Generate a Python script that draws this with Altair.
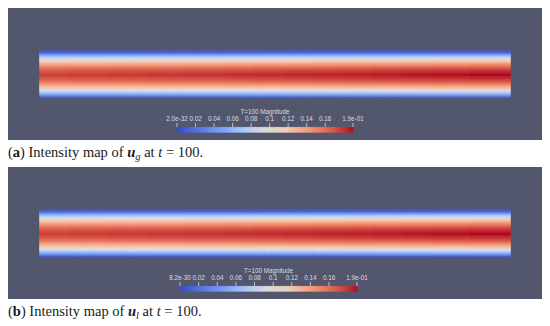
import altair as alt
import pandas as pd
import numpy as np

# ---- data ----
# relative magnitude across the channel, wall -> centreline (mirrored for the other half)
profile_half = [0.05, 0.14, 0.23, 0.31, 0.39, 0.46, 0.53, 0.59, 0.65, 0.70,
                0.75, 0.79, 0.83, 0.87, 0.90, 0.93, 0.95, 0.97, 0.98, 1.00]
# centreline magnitude along the channel (inlet -> outlet)
center_g = [0.177, 0.177, 0.177, 0.178, 0.178, 0.178, 0.178, 0.179, 0.179, 0.179, 0.179, 0.180,
            0.180, 0.180, 0.180, 0.181, 0.181, 0.181, 0.181, 0.182, 0.182, 0.182, 0.183, 0.183,
            0.183, 0.184, 0.184, 0.184, 0.185, 0.185, 0.185, 0.186, 0.186, 0.186, 0.187, 0.187,
            0.187, 0.188, 0.188, 0.188, 0.189, 0.189, 0.189, 0.189, 0.190, 0.190, 0.190, 0.190]
center_l = [0.177, 0.177, 0.177, 0.178, 0.178, 0.178, 0.178, 0.179, 0.179, 0.179, 0.179, 0.180,
            0.180, 0.180, 0.180, 0.181, 0.181, 0.181, 0.181, 0.182, 0.182, 0.182, 0.183, 0.183,
            0.183, 0.184, 0.184, 0.184, 0.185, 0.185, 0.185, 0.186, 0.186, 0.186, 0.187, 0.187,
            0.187, 0.188, 0.188, 0.188, 0.189, 0.189, 0.189, 0.189, 0.190, 0.190, 0.190, 0.190]
tick_values = [0.0, 0.02, 0.04, 0.06, 0.08, 0.1, 0.12, 0.14, 0.16, 0.19]
tick_labels_g = ["2.0e-32", "0.02", "0.04", "0.06", "0.08", "0.1", "0.12", "0.14", "0.16", "1.9e-01"]
tick_labels_l = ["8.2e-30", "0.02", "0.04", "0.06", "0.08", "0.1", "0.12", "0.14", "0.16", "1.9e-01"]
bar_title = "T=100 Magnitude"
vmax = 0.19

# ParaView "Cool to Warm"
cw_colors = ["#3b4cc0", "#5977e3", "#7b9ff9", "#aac7fd", "#dddddd",
             "#f1cbb7", "#f49a7b", "#de604d", "#b40426"]
cw_domain = [vmax * i / (len(cw_colors) - 1) for i in range(len(cw_colors))]
cscale = alt.Scale(domain=cw_domain, range=cw_colors, interpolate="lab")

W, H = 534, 132
BG = "#52576e"
# layout (px inside a panel)
STRIP_L, STRIP_R, STRIP_T, STRIP_B = 32, 502, 43, 89.5

# caption font metrics (Times-like, per 1000 em)
REG = {'(': 333, ')': 333, ' ': 250, 'I': 333, 'n': 500, 't': 278, 'e': 444, 's': 389,
       'i': 278, 'y': 500, 'm': 778, 'a': 444, 'p': 500, 'o': 500, 'f': 333, '=': 564,
       '1': 500, '0': 500, '.': 250}
SPECIAL = {('a', 'bold'): 500, ('b', 'bold'): 556, ('u', 'bi'): 556, ('g', 'it'): 500,
           ('l', 'it'): 278, ('t', 'it'): 278}


def seg_width(text, style, size):
    w = 0
    for ch in text:
        w += SPECIAL.get((ch, style), REG.get(ch, 500))
    return w * size / 1000.0


def panel(center, labels, bar_l, bar_r, letter, sub):
    rows = profile_half + profile_half[::-1]
    R, N = len(rows), len(center)
    recs = []
    for c, cv in enumerate(center):
        for r, f in enumerate(rows):
            recs.append({"x0": c / N, "x1": (c + 1) / N, "y0": r / R, "y1": (r + 1) / R,
                         "v": cv * f})
    df = pd.DataFrame(recs)
    sw = STRIP_R - STRIP_L
    sh = STRIP_B - STRIP_T
    xs = alt.Scale(domain=[-STRIP_L / sw, 1 + (W - STRIP_R) / sw], nice=False, zero=False)
    ys = alt.Scale(domain=[-(H - STRIP_B) / sh, 1 + STRIP_T / sh], nice=False, zero=False)
    heat = alt.Chart(df).mark_rect(strokeWidth=1.2).encode(
        x=alt.X("x0:Q", scale=xs, axis=None), x2="x1",
        y=alt.Y("y0:Q", scale=ys, axis=None), y2="y1",
        color=alt.Color("v:Q", scale=cscale, legend=None),
        stroke=alt.Stroke("v:Q", scale=cscale, legend=None),
    )
    k = vmax / (bar_r - bar_l)
    cbx = alt.Scale(domain=[-bar_l * k, vmax + (W - bar_r) * k], nice=False, zero=False)
    edges = np.linspace(0, vmax, 81)
    cb = pd.DataFrame({"lo": edges[:-1], "hi": edges[1:], "v": (edges[:-1] + edges[1:]) / 2})
    bar = alt.Chart(cb).mark_rect(strokeWidth=0.8).encode(
        x=alt.X("lo:Q", scale=cbx, axis=None), x2="hi",
        y=alt.value(119.4), y2=alt.value(124.2),
        color=alt.Color("v:Q", scale=cscale, legend=None),
        stroke=alt.Stroke("v:Q", scale=cscale, legend=None),
    )
    tk = pd.DataFrame({"t": tick_values, "label": labels})
    tickm = alt.Chart(tk).mark_rule(color="#d8d8dc", strokeWidth=0.8).encode(
        x=alt.X("t:Q", scale=cbx, axis=None), y=alt.value(115), y2=alt.value(119))
    ticklab = alt.Chart(tk).mark_text(color="#dcdce0", fontSize=6.3, font="Liberation Sans",
                                      baseline="middle").encode(
        x=alt.X("t:Q", scale=cbx, axis=None), y=alt.value(111), text="label:N")
    ttl = alt.Chart(pd.DataFrame({"s": [bar_title]})).mark_text(
        color="#dcdce0", fontSize=6.3, font="Liberation Sans", baseline="middle").encode(
        x=alt.value((bar_l + bar_r) / 2), y=alt.value(104), text="s:N")

    F = 14.5
    segs = [("(", "reg", F, 0), (letter, "bold", F, 0), (") Intensity map of ", "reg", F, 0),
            ("u", "bi", F, 0), (sub, "it", 10.5, 3), (" at ", "reg", F, 0), ("t", "it", F, 0),
            (" = 100.", "reg", F, 0)]
    cap_layers = []
    x = 0.0
    base = 149
    for text, style, size, dy in segs:
        lead = len(text) - len(text.lstrip(" "))
        shown = text.strip(" ")
        xpos = x + seg_width(" " * lead, "reg", size)
        kw = dict(fontSize=size, font="Liberation Serif", align="left", baseline="alphabetic",
                  color="#1a1a1a")
        if style == "bold":
            kw["fontWeight"] = "bold"
        elif style == "bi":
            kw["fontWeight"] = "bold"
            kw["fontStyle"] = "italic"
        elif style == "it":
            kw["fontStyle"] = "italic"
        cap_layers.append(alt.Chart(pd.DataFrame({"s": [shown]})).mark_text(**kw).encode(
            x=alt.value(xpos), y=alt.value(base + dy), text="s:N"))
        x += seg_width(text, style, size)

    return alt.layer(heat, bar, tickm, ticklab, ttl, *cap_layers).resolve_scale(
        x="independent").properties(width=W, height=H)


p1 = panel(center_g, tick_labels_g, 169, 345, "a", "g")
p2 = panel(center_l, tick_labels_l, 172, 349, "b", "l")

chart = alt.vconcat(p1, p2, spacing=27, bounds="flush").properties(
    padding=0, background="white"
).configure_view(fill=BG, stroke=None)

chart.save("out.html", embed_options={"renderer": "svg", "actions": False})
